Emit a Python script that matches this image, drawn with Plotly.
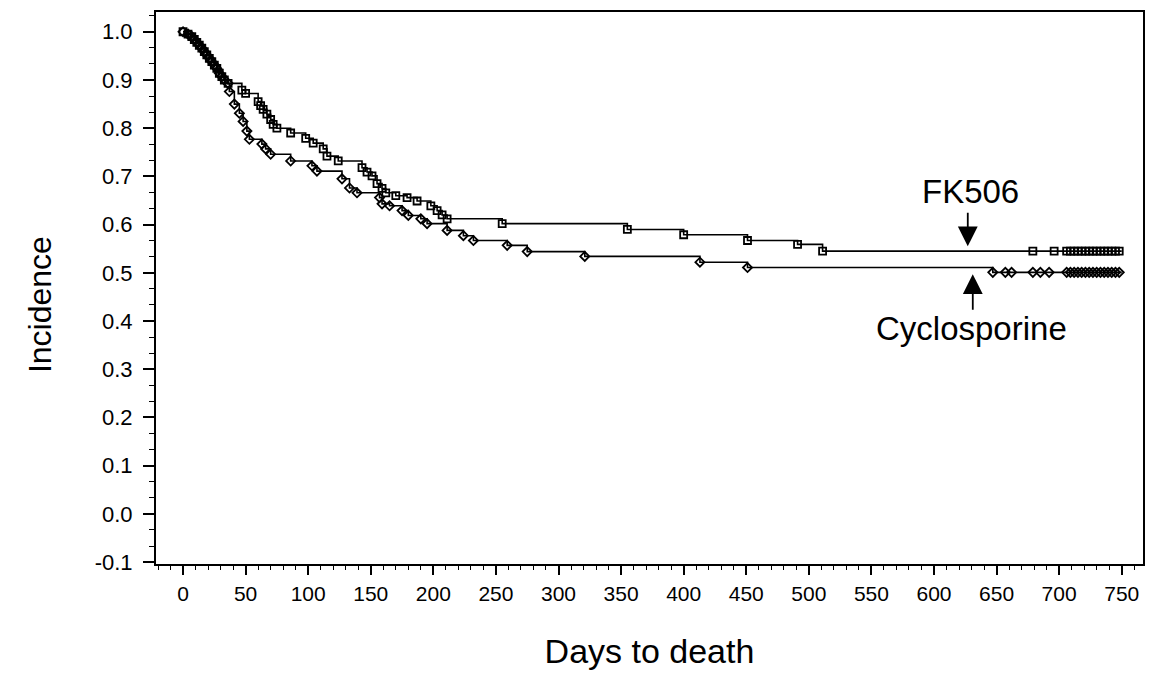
import plotly.graph_objects as go

# FK506 (upper curve): event days and survival after each step
fk_days = [0, 4, 7, 9, 11, 13, 15, 17, 19, 21, 23, 25, 27, 29, 31, 33, 36,
           47, 50, 60, 62, 64, 67, 70, 72, 75, 86, 98, 104, 112, 115, 124,
           143, 147, 151, 155, 159, 162, 170, 179, 187, 198, 203, 207, 211,
           255, 355, 400, 451, 491, 511]
fk_surv = [1.0, 0.995, 0.990, 0.984, 0.978, 0.972, 0.966, 0.959, 0.952, 0.945,
           0.938, 0.931, 0.924, 0.914, 0.907, 0.900, 0.893,
           0.879, 0.872, 0.855, 0.847, 0.839, 0.829, 0.818, 0.808, 0.800,
           0.790, 0.779, 0.769, 0.757, 0.742, 0.732,
           0.718, 0.709, 0.701, 0.685, 0.675, 0.666, 0.660, 0.656, 0.649,
           0.639, 0.629, 0.620, 0.612,
           0.602, 0.590, 0.579, 0.567, 0.559, 0.545]
fk_censor = [679, 696, 706, 709, 712, 715, 718, 721, 724, 727, 730, 733, 736,
             739, 742, 745, 748]

# Cyclosporine (lower curve)
cy_days = [0, 4, 7, 9, 11, 13, 15, 17, 19, 21, 23, 25, 27, 29, 31, 33, 36,
           37, 41, 45, 48, 51, 53, 63, 66, 70, 86, 103, 107, 127, 133, 139,
           157, 159, 165, 175, 180, 190, 195, 211, 224, 232, 259, 275, 321,
           413, 451, 647]
cy_surv = [1.0, 0.995, 0.990, 0.984, 0.978, 0.972, 0.966, 0.959, 0.952, 0.945,
           0.938, 0.931, 0.924, 0.914, 0.907, 0.900, 0.893,
           0.876, 0.850, 0.831, 0.814, 0.794, 0.777, 0.767, 0.757, 0.746,
           0.732, 0.722, 0.711, 0.695, 0.676, 0.666,
           0.656, 0.643, 0.639, 0.629, 0.619, 0.612, 0.602, 0.588, 0.577,
           0.567, 0.557, 0.544, 0.534, 0.522, 0.511, 0.501]
cy_censor = [657, 662, 679, 685, 692, 706, 709, 712, 715, 718, 721, 724, 727,
             730, 733, 736, 739, 742, 745, 748]

x_end = 750
x_ticks = [0, 50, 100, 150, 200, 250, 300, 350, 400, 450, 500, 550, 600, 650, 700, 750]
y_ticks = [-0.1, 0.0, 0.1, 0.2, 0.3, 0.4, 0.5, 0.6, 0.7, 0.8, 0.9, 1.0]


def step_value(days, surv, t):
    v = surv[0]
    for d, s in zip(days, surv):
        if d <= t:
            v = s
    return v


fig = go.Figure()

for days, surv, cens, sym in [
    (fk_days, fk_surv, fk_censor, "square-open"),
    (cy_days, cy_surv, cy_censor, "diamond-open"),
]:
    fig.add_trace(go.Scatter(
        x=days + [x_end], y=surv + [surv[-1]], mode="lines",
        line=dict(color="black", width=1.6, shape="hv"),
        showlegend=False, hoverinfo="skip"))
    fig.add_trace(go.Scatter(
        x=days, y=surv, mode="markers",
        marker=dict(symbol=sym, size=7, color="black",
                    line=dict(color="black", width=1.8)),
        showlegend=False))
    fig.add_trace(go.Scatter(
        x=cens, y=[step_value(days, surv, t) for t in cens], mode="markers",
        marker=dict(symbol=sym, size=7, color="black",
                    line=dict(color="black", width=1.8)),
        showlegend=False))

font = "Liberation Sans, Arial, sans-serif"

fig.update_layout(
    width=1156, height=674,
    margin=dict(l=156, r=13, t=10, b=109),
    paper_bgcolor="white", plot_bgcolor="white",
    font=dict(family=font, color="black"),
    xaxis=dict(
        range=[-21.6, 767], tickvals=x_ticks, ticktext=[str(v) for v in x_ticks],
        ticks="outside", ticklen=9, tickwidth=1.5, tickcolor="black",
        minor=dict(dtick=10, tick0=0, ticks="outside", ticklen=4,
                   tickcolor="black", tickwidth=1),
        showline=True, linecolor="black", linewidth=2, mirror=True,
        showgrid=False, zeroline=False,
        tickfont=dict(size=21, family=font), ticklabelstandoff=1,
        title=dict(text="Days to death", font=dict(size=34, family=font),
                   standoff=35),
    ),
    yaxis=dict(
        range=[-0.104, 1.041], tickvals=y_ticks,
        ticktext=["%.1f" % v for v in y_ticks],
        ticks="outside", ticklen=11, tickwidth=1.5, tickcolor="black",
        minor=dict(dtick=0.1 / 3, tick0=0, ticks="outside", ticklen=5,
                   tickcolor="black", tickwidth=1),
        showline=True, linecolor="black", linewidth=2, mirror=True,
        showgrid=False, zeroline=False,
        tickfont=dict(size=22, family=font), ticklabelstandoff=6,
    ),
    showlegend=False,
)

# y-axis title placed as rotated text (centred slightly below the plot centre)
fig.add_annotation(xref="paper", yref="paper", x=-0.118, y=0.47,
                   xanchor="center", yanchor="middle",
                   text="Incidence", textangle=-90, showarrow=False,
                   font=dict(size=32, family=font, color="black"))

fig.add_annotation(x=629, y=0.669, text="FK506", showarrow=False,
                   font=dict(size=33, family=font, color="black"))
fig.add_annotation(x=627, y=0.555, ax=0, ay=-35, text="", showarrow=True,
                   arrowhead=2, arrowsize=2.2, arrowwidth=1.8,
                   arrowcolor="black")
fig.add_annotation(x=630, y=0.384, text="Cyclosporine", showarrow=False,
                   font=dict(size=33, family=font, color="black"))
fig.add_annotation(x=631, y=0.497, ax=0, ay=37, text="", showarrow=True,
                   arrowhead=2, arrowsize=2.2, arrowwidth=1.8,
                   arrowcolor="black")

fig.write_html("out.html")
